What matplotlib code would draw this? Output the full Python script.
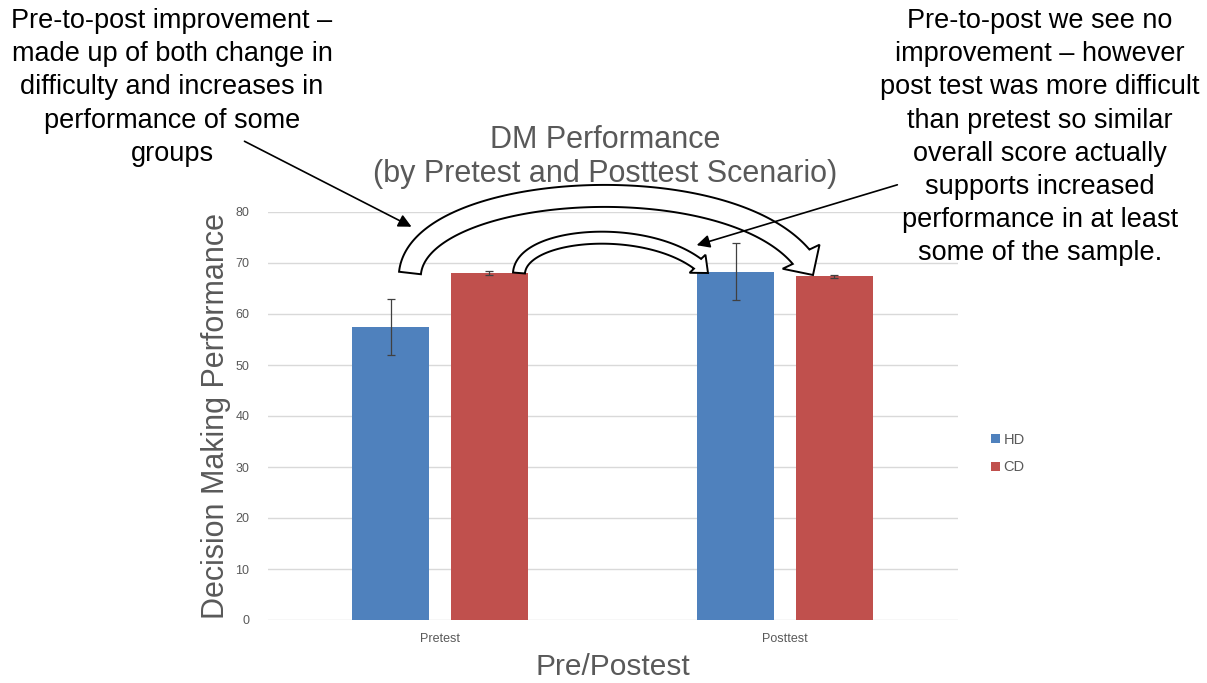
import numpy as np
import matplotlib
matplotlib.use("Agg")
import matplotlib.pyplot as plt
from matplotlib.patches import Polygon

# ---------------- data ----------------
categories = ["Pretest", "Posttest"]
series_names = ["HD", "CD"]
hd_values = [57.4, 68.3]
hd_errors = [5.5, 5.6]
cd_values = [68.0, 67.4]
cd_errors = [0.4, 0.3]
y_ticks = [0, 10, 20, 30, 40, 50, 60, 70, 80]

title_text = "DM Performance\n(by Pretest and Posttest Scenario)"
y_label = "Decision Making Performance"
x_label = "Pre/Postest"
left_note = ("Pre-to-post improvement \u2013\nmade up of both change in\n"
             "difficulty and increases in\nperformance of some\ngroups")
right_note = ("Pre-to-post we see no\nimprovement \u2013 however\n"
              "post test was more difficult\nthan pretest so similar\n"
              "overall score actually\nsupports increased\n"
              "performance in at least\nsome of the sample.")

# ---------------- style ----------------
W, H = 1207, 683
HD_COLOR = "#4F81BD"
CD_COLOR = "#C0504D"
GRAY = "#595959"
GRID = "#D9D9D9"
FONT = ["Liberation Sans", "DejaVu Sans"]
plt.rcParams["font.family"] = FONT


def fx(px):
    return px / W


def fy(py):
    return 1 - py / H


fig = plt.figure(figsize=(W / 100, H / 100), dpi=100)
ax = fig.add_axes([fx(267.5), fy(620), fx(957.5) - fx(267.5), fy(212) - fy(620)])

x = np.arange(len(categories))
bw = 0.223
off = 0.143
ax.bar(x - off, hd_values, bw, color=HD_COLOR, label=series_names[0], zorder=2)
ax.bar(x + off, cd_values, bw, color=CD_COLOR, label=series_names[1], zorder=2)
ax.errorbar(x - off, hd_values, yerr=hd_errors, fmt="none", ecolor="#404040",
            elinewidth=0.9, capsize=3, capthick=0.9, zorder=3)
ax.errorbar(x + off, cd_values, yerr=cd_errors, fmt="none", ecolor="#404040",
            elinewidth=0.9, capsize=3, capthick=0.9, zorder=3)

ax.set_xlim(-0.5, 1.5)
ax.set_ylim(0, 80)
ax.set_yticks(y_ticks)
ax.set_xticks(x)
ax.set_xticklabels(categories)
ax.tick_params(axis="both", length=0, labelsize=9, labelcolor=GRAY)
ax.tick_params(axis="x", pad=9)
ax.tick_params(axis="y", pad=13)
ax.yaxis.grid(True, color=GRID, linewidth=1)
ax.set_axisbelow(True)
for s in ax.spines.values():
    s.set_visible(False)

ax.set_ylabel(y_label, fontsize=22, color=GRAY, labelpad=3)
ax.set_xlabel(x_label, fontsize=21.5, color=GRAY, labelpad=6)

# legend
leg = ax.legend(loc="center left", bbox_to_anchor=(1.03, 0.408), frameon=False,
                fontsize=10.5, handlelength=0.6, handleheight=0.6, handletextpad=0.25,
                labelspacing=0.95, labelcolor=GRAY)

# title
fig.text(fx(605), fy(157), title_text, ha="center", va="center", fontsize=22,
         color=GRAY, linespacing=1.18)

# annotations text
fig.text(fx(172), fy(8), left_note, ha="center", va="top", fontsize=19.5,
         color="black", linespacing=1.36)
fig.text(fx(1040), fy(8), right_note, ha="center", va="top", fontsize=19.5,
         color="black", linespacing=1.36)

# thin arrows
for (x0, y0, x1, y1) in [(242, 140, 414, 228), (900, 184, 694, 246)]:
    fig.add_artist(matplotlib.patches.FancyArrowPatch(
        (fx(x0), fy(y0)), (fx(x1), fy(y1)), transform=fig.transFigure,
        arrowstyle="-|>,head_length=6,head_width=3", mutation_scale=1.3,
        color="black", lw=1.2, zorder=10))


# hollow curved arrows
def hollow_arrow(P, tail_w, head_w, head_len, lw=1.4):
    P = np.array(P, dtype=float)
    t = np.linspace(0, 1, 400)[:, None]
    C = ((1 - t) ** 3) * P[0] + 3 * ((1 - t) ** 2) * t * P[1] + \
        3 * (1 - t) * t ** 2 * P[2] + t ** 3 * P[3]
    seg = np.linalg.norm(np.diff(C, axis=0), axis=1)
    cum = np.concatenate([[0], np.cumsum(seg)])
    total = cum[-1]
    k = np.searchsorted(cum, total - head_len)
    body = C[:k + 1]
    d = np.gradient(body, axis=0)
    d /= np.linalg.norm(d, axis=1)[:, None]
    n = np.stack([-d[:, 1], d[:, 0]], axis=1)
    left = body + n * tail_w / 2
    right = body - n * tail_w / 2
    B = body[-1]
    tip = C[-1]
    dd = (tip - B) / np.linalg.norm(tip - B)
    nn = np.array([-dd[1], dd[0]])
    pts = np.vstack([left, B + nn * head_w / 2, tip, B - nn * head_w / 2, right[::-1]])
    fpts = np.column_stack([pts[:, 0] / W, 1 - pts[:, 1] / H])
    fig.add_artist(Polygon(fpts, closed=True, transform=fig.transFigure,
                           facecolor="white", edgecolor="black", lw=lw, zorder=9))


hollow_arrow([(410, 273), (420, 178), (760, 162), (813, 275)], 22, 44, 22)
hollow_arrow([(519, 273), (522, 230), (660, 222), (708, 273)], 12, 24, 14)

fig.savefig("out.png", dpi=100, facecolor="white")
